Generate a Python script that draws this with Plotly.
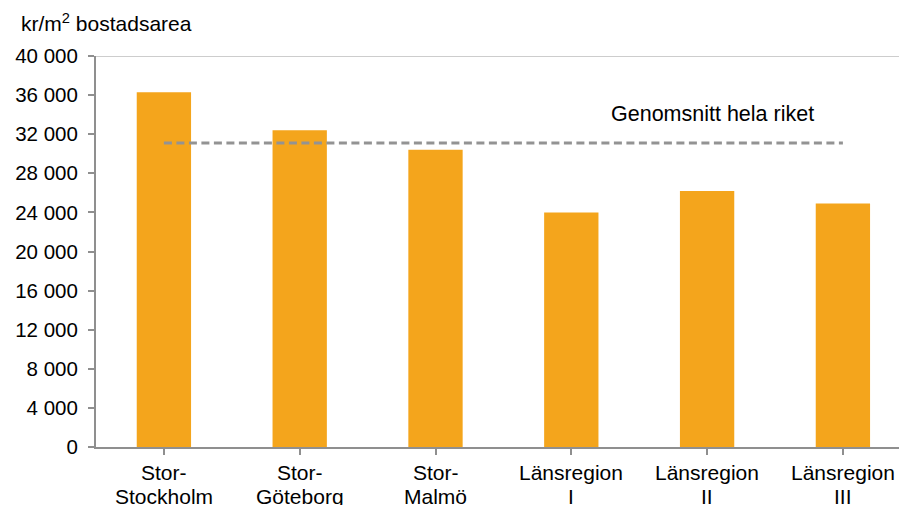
import plotly.graph_objects as go

# Average price per m² of living area by region
label_line1 = ["Stor-", "Stor-", "Stor-", "Länsregion", "Länsregion", "Länsregion"]
label_line2 = ["Stockholm", "Göteborg", "Malmö", "I", "II", "III"]
prices = [36300, 32400, 30400, 24000, 26200, 24900]
national_avg = 31100
avg_label = "Genomsnitt hela riket"
y_title = "kr/m<sup>2</sup> bostadsarea"

FONT = "Liberation Sans, Arial, sans-serif"
BAR = "#F4A51C"
AXIS = "#8f8f8f"
n = len(prices)

fig = go.Figure()

fig.add_trace(go.Bar(
    x=list(range(n)), y=prices,
    marker=dict(color=BAR, line=dict(width=0)),
    width=0.4, hoverinfo="skip", showlegend=False,
))

# National average reference line across the categories
fig.add_trace(go.Scatter(
    x=[0, n - 1], y=[national_avg, national_avg],
    mode="lines",
    line=dict(color="#939393", width=3, dash="8px,4.5px"),
    hoverinfo="skip", showlegend=False,
))

fig.add_annotation(
    x=4.04, y=34100, xref="x", yref="y",
    text=avg_label, showarrow=False,
    font=dict(family=FONT, size=21.5, color="#000000"),
    xanchor="center", yanchor="middle",
)

# Two-line category labels under the axis
for i, (l1, l2) in enumerate(zip(label_line1, label_line2)):
    for txt, shift in ((l1, -25.5), (l2, -49.5)):
        fig.add_annotation(
            x=i, y=0, xref="x", yref="paper", yshift=shift,
            text=txt, showarrow=False,
            font=dict(family=FONT, size=21, color="#000000"),
            xanchor="center", yanchor="middle",
        )

# Top frame line of the plot area
fig.add_shape(type="line", xref="paper", yref="y", x0=0, x1=1, y0=40000, y1=40000,
              line=dict(color="#bdbdbd", width=1.5))

fig.update_layout(
    width=899, height=505,
    margin=dict(l=96, r=0, t=56, b=58),
    paper_bgcolor="white", plot_bgcolor="white",
    separators=", ",
    font=dict(family=FONT, size=20, color="#000000"),
    title=dict(text=y_title, xref="container", yref="container",
               x=21 / 899, y=1 - 24 / 505, xanchor="left", yanchor="middle",
               font=dict(family=FONT, size=21, color="#000000")),
    bargap=0.6,
)

fig.update_xaxes(
    tickmode="array", tickvals=list(range(n)), showticklabels=False,
    range=[-0.5, -0.5 + (899 - 96) / 135.8],
    showgrid=False, zeroline=False,
    showline=True, linecolor=AXIS, linewidth=2,
    ticks="outside", ticklen=6, tickcolor=AXIS, tickwidth=1.5,
    tickson="boundaries",
)

fig.update_yaxes(
    range=[0, 40000], dtick=4000, tick0=0, tickformat=",d",
    showgrid=False, zeroline=False,
    showline=True, linecolor=AXIS, linewidth=2,
    ticks="outside", ticklen=6, tickcolor=AXIS, tickwidth=1.5,
    ticklabelstandoff=6,
    tickfont=dict(family=FONT, size=20.5, color="#000000"),
)

fig.write_html("out.html")
